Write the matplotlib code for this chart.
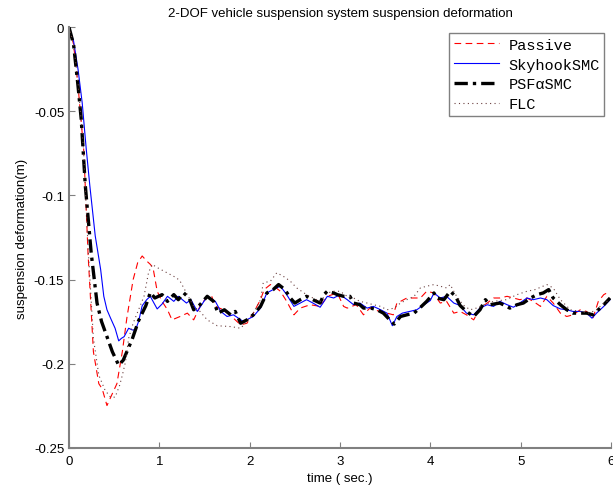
import matplotlib
matplotlib.use('Agg')
import matplotlib.pyplot as plt

# Passive
t_passive = [0, 0.05, 0.10, 0.164, 0.21, 0.27, 0.33, 0.367, 0.42, 0.47, 0.53, 0.59, 0.64, 0.71, 0.76,
             0.81, 0.86, 0.90, 0.93, 0.976, 1.03, 1.09, 1.14, 1.23, 1.31, 1.38, 1.45, 1.53, 1.58,
             1.62, 1.71, 1.82, 1.90, 1.97, 2.04, 2.12, 2.16, 2.23, 2.27, 2.34, 2.41, 2.49, 2.56,
             2.67, 2.78, 2.86, 2.97, 3.04, 3.08, 3.18, 3.26, 3.33, 3.44, 3.52, 3.59, 3.63, 3.67,
             3.74, 3.82, 3.89, 3.96, 4.04, 4.07, 4.11, 4.18, 4.26, 4.33, 4.40, 4.48, 4.55, 4.63,
             4.70, 4.77, 4.85, 4.92, 4.99, 5.07, 5.14, 5.22, 5.29, 5.36, 5.44, 5.51, 5.58, 5.66,
             5.73, 5.80, 5.86, 5.92, 5.99]
y_passive = [0, -0.010, -0.035, -0.074, -0.134, -0.193, -0.212, -0.215, -0.225, -0.219, -0.212, -0.193,
             -0.173, -0.150, -0.140, -0.136, -0.139, -0.141, -0.143, -0.157, -0.163, -0.168, -0.174,
             -0.172, -0.170, -0.174, -0.166, -0.160, -0.160, -0.166, -0.168, -0.173, -0.177, -0.176,
             -0.170, -0.162, -0.156, -0.153, -0.154, -0.157, -0.163, -0.171, -0.167, -0.165, -0.166,
             -0.160, -0.158, -0.166, -0.167, -0.165, -0.171, -0.167, -0.169, -0.170, -0.171, -0.164,
             -0.163, -0.161, -0.161, -0.161, -0.157, -0.158, -0.161, -0.164, -0.163, -0.170, -0.169,
             -0.171, -0.174, -0.167, -0.164, -0.161, -0.161, -0.160, -0.161, -0.162, -0.161, -0.163,
             -0.166, -0.160, -0.164, -0.170, -0.172, -0.171, -0.168, -0.169, -0.173, -0.163, -0.159,
             -0.157]

# SkyhookSMC
t_sky = [0, 0.05, 0.10, 0.146, 0.19, 0.23, 0.29, 0.35, 0.385, 0.42, 0.46, 0.51, 0.55, 0.58, 0.61,
         0.66, 0.70, 0.735, 0.77, 0.81, 0.86, 0.90, 0.94, 0.976, 1.03, 1.09, 1.16, 1.21, 1.30, 1.35,
         1.42, 1.53, 1.62, 1.68, 1.75, 1.82, 1.93, 2.04, 2.12, 2.19, 2.26, 2.34, 2.41, 2.49, 2.56,
         2.63, 2.70, 2.78, 2.86, 2.93, 3.00, 3.08, 3.15, 3.22, 3.30, 3.37, 3.45, 3.52, 3.58, 3.63,
         3.69, 3.77, 3.85, 3.93, 4.00, 4.04, 4.11, 4.18, 4.26, 4.33, 4.40, 4.48, 4.55, 4.63, 4.70,
         4.77, 4.85, 4.92, 4.99, 5.07, 5.14, 5.22, 5.29, 5.36, 5.44, 5.51, 5.58, 5.66, 5.73, 5.79,
         5.84, 5.92, 5.99]
y_sky = [0, -0.008, -0.025, -0.045, -0.072, -0.094, -0.124, -0.144, -0.160, -0.168, -0.173, -0.179,
         -0.1865, -0.185, -0.184, -0.179, -0.180, -0.180, -0.175, -0.1656, -0.162, -0.160, -0.164,
         -0.1675, -0.1646, -0.160, -0.163, -0.160, -0.164, -0.162, -0.169, -0.160, -0.163, -0.169,
         -0.172, -0.171, -0.175, -0.172, -0.167, -0.158, -0.156, -0.154, -0.159, -0.166, -0.164,
         -0.162, -0.164, -0.1665, -0.160, -0.161, -0.159, -0.162, -0.165, -0.164, -0.167, -0.166,
         -0.168, -0.170, -0.1775, -0.172, -0.170, -0.169, -0.168, -0.165, -0.1625, -0.158, -0.161,
         -0.160, -0.164, -0.1655, -0.170, -0.171, -0.167, -0.165, -0.166, -0.163, -0.165, -0.1665,
         -0.164, -0.161, -0.162, -0.161, -0.162, -0.1655, -0.1675, -0.168, -0.169, -0.169, -0.170,
         -0.173, -0.170, -0.166, -0.162]

# PSFαSMC
t_psf = [0, 0.05, 0.10, 0.135, 0.18, 0.245, 0.31, 0.36, 0.42, 0.48, 0.55, 0.60, 0.64, 0.70, 0.77,
         0.85, 0.90, 0.95, 1.03, 1.09, 1.16, 1.21, 1.27, 1.33, 1.38, 1.45, 1.53, 1.60, 1.65, 1.72,
         1.79, 1.84, 1.90, 1.97, 2.04, 2.12, 2.19, 2.26, 2.32, 2.39, 2.45, 2.50, 2.56, 2.63, 2.70,
         2.78, 2.82, 2.86, 2.93, 2.97, 3.04, 3.11, 3.15, 3.22, 3.26, 3.34, 3.41, 3.48, 3.56, 3.60,
         3.67, 3.74, 3.82, 3.89, 3.96, 4.04, 4.07, 4.15, 4.22, 4.28, 4.33, 4.40, 4.48, 4.55, 4.61,
         4.66, 4.77, 4.88, 4.96, 5.03, 5.11, 5.18, 5.25, 5.31, 5.36, 5.44, 5.51, 5.58, 5.66, 5.73,
         5.80, 5.86, 5.92, 5.99]
y_psf = [0, -0.010, -0.035, -0.0546, -0.094, -0.134, -0.164, -0.175, -0.184, -0.193, -0.201, -0.198,
         -0.193, -0.1854, -0.1745, -0.1656, -0.1577, -0.161, -0.159, -0.163, -0.159, -0.162, -0.158,
         -0.161, -0.168, -0.165, -0.160, -0.163, -0.170, -0.168, -0.171, -0.169, -0.176, -0.174,
         -0.171, -0.166, -0.158, -0.156, -0.153, -0.156, -0.161, -0.164, -0.162, -0.160, -0.162,
         -0.164, -0.159, -0.157, -0.158, -0.159, -0.160, -0.160, -0.164, -0.165, -0.167, -0.167,
         -0.168, -0.170, -0.1745, -0.1765, -0.172, -0.171, -0.170, -0.1666, -0.163, -0.158, -0.161,
         -0.162, -0.157, -0.160, -0.1655, -0.169, -0.172, -0.168, -0.162, -0.165, -0.164, -0.167,
         -0.165, -0.164, -0.161, -0.159, -0.158, -0.156, -0.161, -0.165, -0.168, -0.170, -0.170,
         -0.170, -0.171, -0.168, -0.165, -0.161]

# FLC
t_flc = [0, 0.05, 0.10, 0.16, 0.21, 0.27, 0.33, 0.40, 0.46, 0.51, 0.56, 0.59, 0.625, 0.66, 0.71,
         0.77, 0.83, 0.88, 0.92, 0.98, 1.05, 1.12, 1.19, 1.23, 1.28, 1.32, 1.38, 1.45, 1.53, 1.64,
         1.79, 1.90, 1.97, 2.04, 2.12, 2.15, 2.23, 2.30, 2.37, 2.45, 2.52, 2.63, 2.70, 2.78, 2.86,
         2.93, 3.00, 3.08, 3.15, 3.22, 3.30, 3.37, 3.45, 3.52, 3.60, 3.67, 3.74, 3.82, 3.89, 3.96,
         4.04, 4.11, 4.18, 4.22, 4.28, 4.36, 4.44, 4.51, 4.59, 4.70, 4.84, 4.96, 5.07, 5.16, 5.29,
         5.36, 5.44, 5.55, 5.66, 5.76, 5.84, 5.92, 5.99]
y_flc = [0, -0.010, -0.033, -0.072, -0.130, -0.185, -0.207, -0.216, -0.220, -0.220, -0.213, -0.207,
         -0.199, -0.185, -0.176, -0.168, -0.160, -0.146, -0.141, -0.143, -0.145, -0.147, -0.149,
         -0.151, -0.156, -0.160, -0.166, -0.169, -0.174, -0.1775, -0.178, -0.179, -0.175, -0.170,
         -0.162, -0.152, -0.151, -0.146, -0.148, -0.151, -0.155, -0.159, -0.161, -0.163, -0.158,
         -0.157, -0.157, -0.160, -0.161, -0.163, -0.164, -0.165, -0.166, -0.168, -0.167, -0.164,
         -0.162, -0.160, -0.155, -0.154, -0.153, -0.154, -0.155, -0.153, -0.159, -0.165, -0.168,
         -0.167, -0.165, -0.163, -0.162, -0.159, -0.157, -0.156, -0.153, -0.155, -0.162, -0.168,
         -0.169, -0.170, -0.168, -0.164, -0.162]

x_ticks = [0, 1, 2, 3, 4, 5, 6]
y_ticks = [0, -0.05, -0.1, -0.15, -0.2, -0.25]
y_tick_labels = ['0', '-0.05', '-0.1', '-0.15', '-0.2', '-0.25']

plt.rcParams['font.family'] = ['Liberation Sans', 'DejaVu Sans']

fig = plt.figure(figsize=(6.13, 4.89), dpi=100)
ax = fig.add_axes([0.1126, 0.0826, 0.8841, 0.8594])

ax.plot(t_passive, y_passive, color='red', linestyle=(0, (6, 4)), linewidth=0.8, label='Passive')
ax.plot(t_sky, y_sky, color='blue', linestyle='-', linewidth=0.8, label='SkyhookSMC')
ax.plot(t_psf, y_psf, color='black', linestyle=(0, (4, 1.5, 1, 1.5)), linewidth=2.4, label='PSFαSMC')
ax.plot(t_flc, y_flc, color='#6b4040', linestyle=(0, (1, 3)), linewidth=0.8, label='FLC')

ax.set_xlim(0, 6)
ax.set_ylim(-0.25, 0)
ax.set_xticks(x_ticks)
ax.set_yticks(y_ticks)
ax.set_yticklabels(y_tick_labels)
ax.tick_params(direction='in', length=4, color='#808080', labelsize=9.5)
ax.tick_params(axis='x', pad=5)

for side in ['top', 'right']:
    ax.spines[side].set_visible(False)
for side in ['left', 'bottom']:
    ax.spines[side].set_color('#808080')
    ax.spines[side].set_linewidth(1.5)

ax.set_title('2-DOF vehicle suspension system suspension deformation', fontsize=9.5, pad=8)
ax.set_xlabel('time ( sec.)', fontsize=9.5, labelpad=4)
ax.set_ylabel('suspension deformation(m)', fontsize=9.5, labelpad=4)

leg = ax.legend(loc='upper right', bbox_to_anchor=(0.988, 0.986), borderaxespad=0, fancybox=False,
                handlelength=3.0, borderpad=0.3, labelspacing=0.38, handletextpad=0.6,
                prop={'family': ['Liberation Mono', 'DejaVu Sans Mono'], 'size': 11})
leg.get_frame().set_edgecolor('#606060')
leg.get_frame().set_linewidth(1.0)

plt.savefig('out.png', dpi=100)
